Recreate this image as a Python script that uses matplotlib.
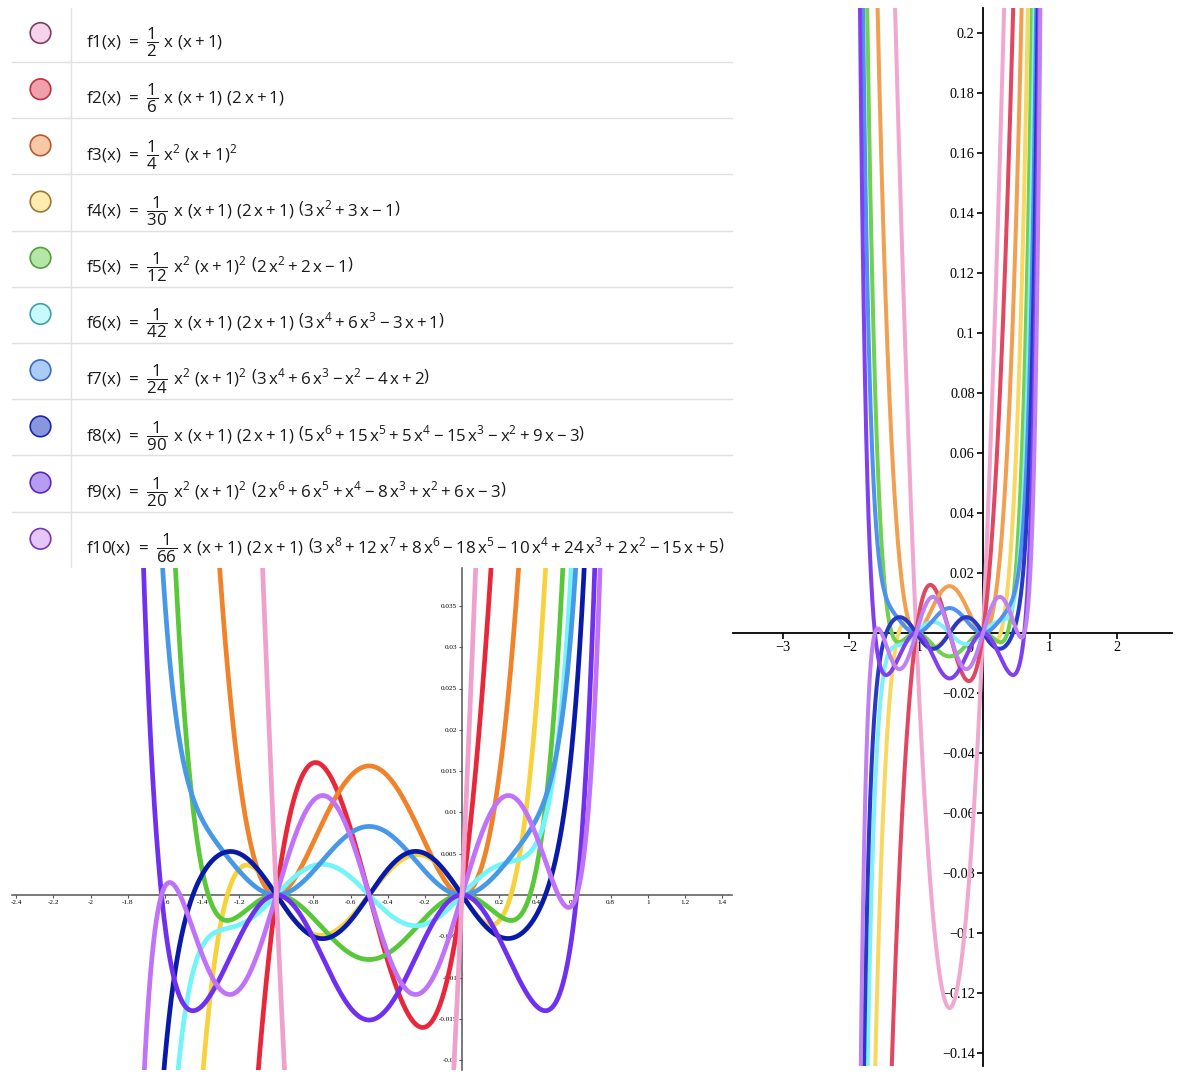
import numpy as np
import matplotlib
matplotlib.use("Agg")
import matplotlib.pyplot as plt
from matplotlib.patches import Circle
from functools import reduce

plt.rcParams['mathtext.fontset'] = 'custom'
plt.rcParams['mathtext.rm'] = 'Open Sans'
plt.rcParams['mathtext.it'] = 'Open Sans'
plt.rcParams['mathtext.default'] = 'rm'

# Faulhaber-type polynomials: 1/denominator * product of factors (coefficients, highest power first)
denominators = [2, 6, 4, 30, 12, 42, 24, 90, 20, 66]
factors = [
    [[1, 0], [1, 1]],
    [[1, 0], [1, 1], [2, 1]],
    [[1, 0, 0], [1, 2, 1]],
    [[1, 0], [1, 1], [2, 1], [3, 3, -1]],
    [[1, 0, 0], [1, 2, 1], [2, 2, -1]],
    [[1, 0], [1, 1], [2, 1], [3, 6, 0, -3, 1]],
    [[1, 0, 0], [1, 2, 1], [3, 6, -1, -4, 2]],
    [[1, 0], [1, 1], [2, 1], [5, 15, 5, -15, -1, 9, -3]],
    [[1, 0, 0], [1, 2, 1], [2, 6, 1, -8, 1, 6, -3]],
    [[1, 0], [1, 1], [2, 1], [3, 12, 8, -18, -10, 24, 2, -15, 5]],
]

labels = [
    r"$\mathrm{f1(x)}\ =\ \dfrac{1}{2}\ x\ (x+1)$",
    r"$\mathrm{f2(x)}\ =\ \dfrac{1}{6}\ x\ (x+1)\ (2\,x+1)$",
    r"$\mathrm{f3(x)}\ =\ \dfrac{1}{4}\ x^{2}\ (x+1)^{2}$",
    r"$\mathrm{f4(x)}\ =\ \dfrac{1}{30}\ x\ (x+1)\ (2\,x+1)\ \left(3\,x^{2}+3\,x-1\right)$",
    r"$\mathrm{f5(x)}\ =\ \dfrac{1}{12}\ x^{2}\ (x+1)^{2}\ \left(2\,x^{2}+2\,x-1\right)$",
    r"$\mathrm{f6(x)}\ =\ \dfrac{1}{42}\ x\ (x+1)\ (2\,x+1)\ \left(3\,x^{4}+6\,x^{3}-3\,x+1\right)$",
    r"$\mathrm{f7(x)}\ =\ \dfrac{1}{24}\ x^{2}\ (x+1)^{2}\ \left(3\,x^{4}+6\,x^{3}-x^{2}-4\,x+2\right)$",
    r"$\mathrm{f8(x)}\ =\ \dfrac{1}{90}\ x\ (x+1)\ (2\,x+1)\ \left(5\,x^{6}+15\,x^{5}+5\,x^{4}-15\,x^{3}-x^{2}+9\,x-3\right)$",
    r"$\mathrm{f9(x)}\ =\ \dfrac{1}{20}\ x^{2}\ (x+1)^{2}\ \left(2\,x^{6}+6\,x^{5}+x^{4}-8\,x^{3}+x^{2}+6\,x-3\right)$",
    r"$\mathrm{f10(x)}\ =\ \dfrac{1}{66}\ x\ (x+1)\ (2\,x+1)\ \left(3\,x^{8}+12\,x^{7}+8\,x^{6}-18\,x^{5}-10\,x^{4}+24\,x^{3}+2\,x^{2}-15\,x+5\right)$",
]

# colours
dot_fill = ['#f8d2ea', '#f0a0aa', '#f8c8a6', '#fdebb0', '#b6e6a6', '#c8fafc', '#aaccf6', '#8896e0', '#b89cf2', '#e6c6f8']
dot_edge = ['#7a4060', '#c03040', '#b85a30', '#9a7a30', '#50a040', '#40a0a0', '#3a6ac0', '#1a28a8', '#5a28c0', '#7a38a8']
low_colors = ['#f0a0cc', '#e8283a', '#f0822a', '#f8d23c', '#58c83a', '#72f4f8', '#4898e8', '#0a1aa8', '#7030f0', '#c072f8']
right_colors = ['#f0a8d0', '#e04862', '#f0a050', '#f8d860', '#70d050', '#80f0f8', '#5090f0', '#2838c8', '#8040f0', '#c080f0']

low_xticks = [-2.4, -2.2, -2, -1.8, -1.6, -1.4, -1.2, -1, -0.8, -0.6, -0.4, -0.2, 0.2, 0.4, 0.6, 0.8, 1, 1.2, 1.4]
low_yticks = [-0.02, -0.015, -0.01, -0.005, 0.005, 0.01, 0.015, 0.02, 0.025, 0.03, 0.035]
right_xticks = [-3, -2, -1, 1, 2]
right_yticks = [-0.14, -0.12, -0.1, -0.08, -0.06, -0.04, -0.02, 0.02, 0.04, 0.06, 0.08, 0.1, 0.12, 0.14, 0.16, 0.18, 0.2]

polys = [np.array(reduce(np.polymul, f), dtype=float) / d for f, d in zip(factors, denominators)]

W, H = 1200, 1083
fig = plt.figure(figsize=(W / 100, H / 100), dpi=100)


def px_axes(x0, y0, x1, y1):
    return fig.add_axes([x0 / W, 1 - y1 / H, (x1 - x0) / W, (y1 - y0) / H])


def fmt(v, minus):
    s = ('%g' % v)
    return s.replace('-', minus)


# ---- algebra view ----
tab = px_axes(0, 0, 740, 568)
tab.set_xlim(0, 740)
tab.set_ylim(568, 0)
tab.axis('off')
row_h = 56.2
tab.plot([71, 71], [8, 568], color='#e2e2e2', lw=1)
for i in range(10):
    cy = 33 + i * row_h
    if i < 9:
        tab.plot([12, 732], [cy + 29, cy + 29], color='#e0e0e0', lw=1)
    tab.add_patch(Circle((40.5, cy), 10.3, facecolor=dot_fill[i], edgecolor=dot_edge[i], lw=1.2))
    tab.text(86, cy + 15, labels[i], fontsize=12.2, va='baseline', ha='left', color='#1a1a1a')

# ---- zoomed graphics view (bottom left) ----
ax = px_axes(12, 568, 732, 1070)
ax.set_xlim((12 - 462) / 185.7, (732 - 462) / 185.7)
ax.set_ylim((895 - 1070) / 8260, (895 - 568) / 8260)
xs = np.linspace(-2.5, 1.5, 6000)
order = [1, 2, 3, 4, 5, 6, 7, 8, 9, 0]
for i in order:
    ax.plot(xs, np.polyval(polys[i], xs), color=low_colors[i], lw=3.4, zorder=3,
            solid_capstyle='round')
for s in ['top', 'right']:
    ax.spines[s].set_visible(False)
ax.spines['left'].set_position(('data', 0))
ax.spines['bottom'].set_position(('data', 0))
for s in ['left', 'bottom']:
    ax.spines[s].set_color('#555555')
    ax.spines[s].set_linewidth(1.1)
    ax.spines[s].set_zorder(1)
ax.set_xticks(low_xticks)
ax.set_xticklabels([fmt(v, '-') for v in low_xticks])
ax.set_yticks(low_yticks)
ax.set_yticklabels([fmt(v, '-') for v in low_yticks])
ax.tick_params(length=2, width=0.8, color='#555555', labelsize=5.2, pad=1.5)
for lab in ax.get_xticklabels() + ax.get_yticklabels():
    lab.set_fontfamily('Liberation Serif')
ax.patch.set_alpha(0)

# ---- full graphics view (right) ----
ar = px_axes(733, 8, 1172, 1066)
ar.set_xlim((733 - 983) / 66.8, (1172 - 983) / 66.8)
ar.set_ylim((633 - 1066) / 3000, (633 - 8) / 3000)
xr = np.linspace(-4, 3, 8000)
for i in range(10):
    ar.plot(xr, np.polyval(polys[i], xr), color=right_colors[i], lw=2.9, zorder=3)
for s in ['top', 'right']:
    ar.spines[s].set_visible(False)
ar.spines['left'].set_position(('data', 0))
ar.spines['bottom'].set_position(('data', 0))
for s in ['left', 'bottom']:
    ar.spines[s].set_color('black')
    ar.spines[s].set_linewidth(1.3)
    ar.spines[s].set_zorder(1)
ar.set_xticks(right_xticks)
ar.set_xticklabels([fmt(v, '\u2212') for v in right_xticks])
ar.set_yticks(right_yticks)
ar.set_yticklabels([fmt(v, '\u2212') for v in right_yticks])
ar.tick_params(length=4, width=1.2, labelsize=10.3, pad=2)
for lab in ar.get_xticklabels() + ar.get_yticklabels():
    lab.set_fontfamily('Liberation Serif')
ar.annotate('0', (0, 0), xytext=(-13, -15), textcoords='offset pixels', ha='center', va='center',
            fontsize=10.3, family='Liberation Serif', zorder=1)
ar.patch.set_alpha(0)

fig.savefig('out.png', dpi=100, facecolor='white')
